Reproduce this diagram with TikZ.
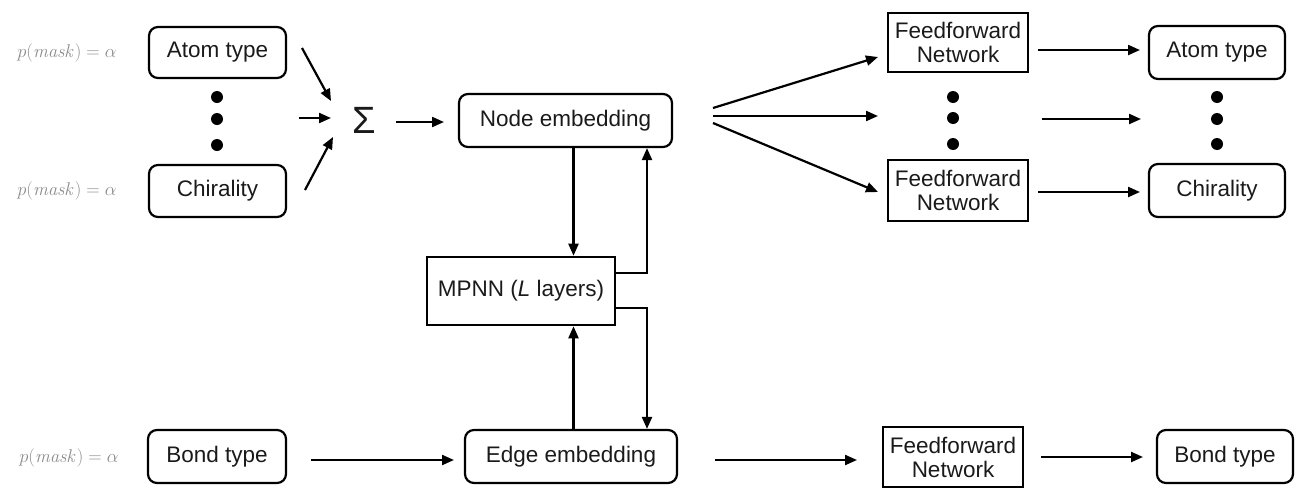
\RequirePackage{fix-cm}
\documentclass[tikz,border=0pt]{standalone}
\usepackage[no-math]{fontspec}
\setmainfont{Liberation Sans}
\usetikzlibrary{arrows.meta,calc}
\definecolor{txt}{HTML}{1A1A1A}
\definecolor{maskgray}{HTML}{8A8A8A}
\tikzset{
  rbox/.style={draw, line width=2.2pt, rounded corners=9pt, inner sep=0pt, text=txt,
    font=\fontsize{22.5}{26}\selectfont},
  sbox/.style={draw, line width=2.6pt, inner sep=2pt, text=txt, align=center,
    font=\fontsize{22.5}{26}\selectfont},
  arr/.style={-{Triangle[length=12pt,width=10pt]}, line width=2.2pt},
  dotc/.style={circle, fill=black, inner sep=0pt, minimum size=12pt},
  mask/.style={text=maskgray, font=\fontsize{18.5}{20}\selectfont}
}
\begin{document}
\begin{tikzpicture}[x=1pt,y=-1pt]
\useasboundingbox (0,0) rectangle (1312,501);
% mask labels
\node[mask] (pa1) at (67,53) {$p(\mathit{mask}) = \alpha$};
\node[mask] (pa2) at (67,191) {$p(\mathit{mask}) = \alpha$};
\node[mask] (pb) at (69,458) {$p(\mathit{mask}) = \alpha$};
% left input boxes
\node[rbox, minimum width=137pt, minimum height=51pt] (atomL) at (217.5,52.5) {Atom type};
\node[rbox, minimum width=137pt, minimum height=52pt] (chirL) at (217.5,191) {Chirality};
\node[rbox, minimum width=138pt, minimum height=53pt] (bondL) at (217,456.5) {Bond type};
\node[dotc] (dl1) at (217,97) {};
\node[dotc] (dl2) at (217,119) {};
\node[dotc] (dl3) at (217,145) {};
% sigma
\node[text=txt, font=\fontsize{38}{40}\selectfont, inner sep=0pt] (sig) at (364,120) {Σ};
% embeddings and MPNN
\node[rbox, minimum width=213pt, minimum height=53pt] (nodeE) at (565.5,120.5) {Node embedding};
\node[sbox, minimum width=188pt, minimum height=68pt] (mpnn) at (521,291) {MPNN (\textit{L} layers)};
\node[rbox, minimum width=212pt, minimum height=53pt] (edgeE) at (571,456.5) {Edge embedding};
% feedforward networks
\node[sbox, minimum width=140pt, minimum height=59pt] (ffn1) at (958,42.5) {Feedforward\\[-2pt]Network};
\node[sbox, minimum width=140pt, minimum height=61pt] (ffn2) at (958,190.5) {Feedforward\\[-2pt]Network};
\node[sbox, minimum width=140pt, minimum height=60pt] (ffn3) at (953,457) {Feedforward\\[-2pt]Network};
\node[dotc] (dm1) at (953,97) {};
\node[dotc] (dm2) at (953,118) {};
\node[dotc] (dm3) at (953,144) {};
% outputs
\node[rbox, minimum width=136pt, minimum height=53pt] (atomR) at (1217,52.5) {Atom type};
\node[rbox, minimum width=136pt, minimum height=53pt] (chirR) at (1217,190.5) {Chirality};
\node[rbox, minimum width=136pt, minimum height=53pt] (bondR) at (1225,456.5) {Bond type};
\node[dotc] (dr1) at (1217,97) {};
\node[dotc] (dr2) at (1217,119) {};
\node[dotc] (dr3) at (1217,144) {};
% coordinates for free-standing arrows
\coordinate (s1a) at (302,48);  \coordinate (s1b) at (331,101);
\coordinate (s2a) at (299,118); \coordinate (s2b) at (331,118);
\coordinate (s3a) at (305,190); \coordinate (s3b) at (333,137);
\coordinate (s4a) at (396,122); \coordinate (s4b) at (444,122);
\coordinate (xA) at (573.5,0);
\coordinate (xB) at (647,0);
\coordinate (f0a) at (713,108); \coordinate (f1b) at (878,57);
\coordinate (f0m) at (713,116); \coordinate (f2b) at (878,116);
\coordinate (f0c) at (713,123); \coordinate (f3b) at (878,192);
\coordinate (r1a) at (1038,50);  \coordinate (r1b) at (1140,50);
\coordinate (r2a) at (1042,119); \coordinate (r2b) at (1141,119);
\coordinate (r3a) at (1038,192); \coordinate (r3b) at (1140,192);
\coordinate (b1a) at (311,460); \coordinate (b1b) at (454,460);
\coordinate (b2a) at (715,460); \coordinate (b2b) at (857,460);
\coordinate (b3a) at (1041,457); \coordinate (b3b) at (1143,457);
% arrows into sum
\draw[arr] (s1a) -- (s1b);
\draw[arr] (s2a) -- (s2b);
\draw[arr] (s3a) -- (s3b);
\draw[arr] (s4a) -- (s4b);
% node <-> mpnn <-> edge
\draw[arr] (nodeE.south -| xA) -- (mpnn.north -| xA);
\draw[arr] ([yshift=18pt]mpnn.east) -| (nodeE.south -| xB);
\draw[arr] ([yshift=-17pt]mpnn.east) -| (edgeE.north -| xB);
\draw[arr] (edgeE.north -| xA) -- (mpnn.south -| xA);
% fan out
\draw[arr] (f0a) -- (f1b);
\draw[arr] (f0m) -- (f2b);
\draw[arr] (f0c) -- (f3b);
\draw[arr] (r1a) -- (r1b);
\draw[arr] (r2a) -- (r2b);
\draw[arr] (r3a) -- (r3b);
% bottom row
\draw[arr] (b1a) -- (b1b);
\draw[arr] (b2a) -- (b2b);
\draw[arr] (b3a) -- (b3b);
\end{tikzpicture}
\end{document}
